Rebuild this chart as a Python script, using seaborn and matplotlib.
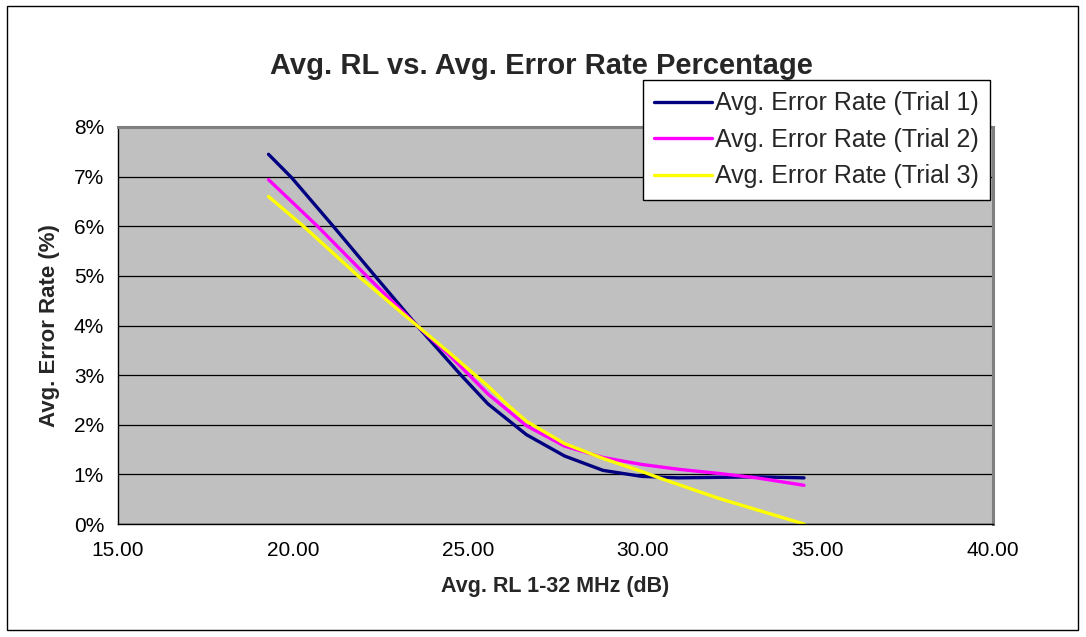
import pandas as pd
import matplotlib
matplotlib.use("Agg")
import matplotlib.pyplot as plt
import seaborn as sns
from matplotlib.patches import Rectangle

# values (RL in dB, error rate in %)
rl_trial1 = [19.3, 19.96, 21.15, 22.4, 23.54, 24.8, 25.57, 26.67, 27.76, 28.86, 29.96, 31.0, 32.15, 33.3, 34.6]
err_trial1 = [7.45, 6.98, 6.0, 4.95, 4.0, 3.0, 2.42, 1.8, 1.37, 1.08, 0.96, 0.93, 0.94, 0.95, 0.93]

rl_trial2 = [19.3, 20.7, 22.1, 23.54, 24.47, 25.57, 26.67, 27.76, 28.86, 29.96, 31.05, 32.15, 33.25, 34.6]
err_trial2 = [6.94, 6.0, 5.0, 4.0, 3.4, 2.62, 1.98, 1.57, 1.34, 1.2, 1.1, 1.02, 0.93, 0.78]

rl_trial3 = [19.3, 20.3, 21.86, 23.54, 24.47, 25.57, 26.1, 26.67, 27.76, 28.86, 29.96, 30.5, 32.15, 34.6]
err_trial3 = [6.6, 6.0, 5.0, 4.0, 3.45, 2.78, 2.42, 2.07, 1.62, 1.32, 1.06, 0.92, 0.52, 0.0]

series_names = ["Avg. Error Rate (Trial 1)", "Avg. Error Rate (Trial 2)", "Avg. Error Rate (Trial 3)"]
x_ticks = [15, 20, 25, 30, 35, 40]
y_ticks = [0, 1, 2, 3, 4, 5, 6, 7, 8]

# long-form table for seaborn
frames = []
for name, xs, ys in zip(series_names, [rl_trial1, rl_trial2, rl_trial3],
                        [err_trial1, err_trial2, err_trial3]):
    frames.append(pd.DataFrame({"rl": xs, "err": ys, "series": name}))
df = pd.concat(frames, ignore_index=True)

sns.set_theme(style="white")
plt.rcParams["font.family"] = ["Liberation Sans", "DejaVu Sans"]

fig = plt.figure(figsize=(10.86, 6.37), dpi=100)
ax = fig.add_axes([118 / 1086, 1 - 524 / 637, (993 - 118) / 1086, (524 - 127) / 637])

palette = {series_names[0]: "#000080", series_names[1]: "#FF00FF", series_names[2]: "#FFFF00"}
sns.lineplot(data=df, x="rl", y="err", hue="series", palette=palette, sort=False,
             linewidth=2.4, ax=ax, legend=True)

ax.set_facecolor("#C0C0C0")
ax.set_xlim(15, 40)
ax.set_ylim(0, 8)
ax.set_xticks(x_ticks)
ax.set_xticklabels([f"{v:.2f}" for v in x_ticks])
ax.set_yticks(y_ticks)
ax.set_yticklabels([f"{v}%" for v in y_ticks])
ax.tick_params(axis="both", direction="out", length=5, width=1, color="black",
               labelsize=15, labelcolor="black", pad=5)
ax.tick_params(axis="x", pad=7)
ax.yaxis.grid(True, color="black", linewidth=0.9)
ax.set_axisbelow(True)

for side in ["left", "bottom"]:
    ax.spines[side].set_color("black")
    ax.spines[side].set_linewidth(1)
for side in ["top", "right"]:
    ax.spines[side].set_color("#808080")
    ax.spines[side].set_linewidth(2.2)

ax.set_xlabel("Avg. RL 1-32 MHz (dB)", fontsize=15.5, fontweight="bold", labelpad=12)
ax.set_ylabel("Avg. Error Rate (%)", fontsize=16, fontweight="bold", labelpad=10)

fig.text(541 / 1086, 1 - 66 / 637, "Avg. RL vs. Avg. Error Rate Percentage",
         ha="center", va="center", fontsize=21, fontweight="bold")

handles, labels = ax.get_legend_handles_labels()
ax.legend(handles, labels, loc="upper right", bbox_to_anchor=(990 / 1086, 1 - 80 / 637),
          bbox_transform=fig.transFigure, borderaxespad=0, fontsize=18,
          frameon=True, fancybox=False, edgecolor="black", framealpha=1,
          handlelength=2.3, handletextpad=0.12, labelspacing=0.5, borderpad=0.45)
ax.get_legend().get_frame().set_linewidth(1)

# outer chart border
fig.patches.append(Rectangle((7 / 1086, 1 - 630 / 637), (1078 - 7) / 1086, (630 - 6) / 637,
                             transform=fig.transFigure, fill=False, edgecolor="black", linewidth=1))

fig.savefig("out.png", dpi=100)
